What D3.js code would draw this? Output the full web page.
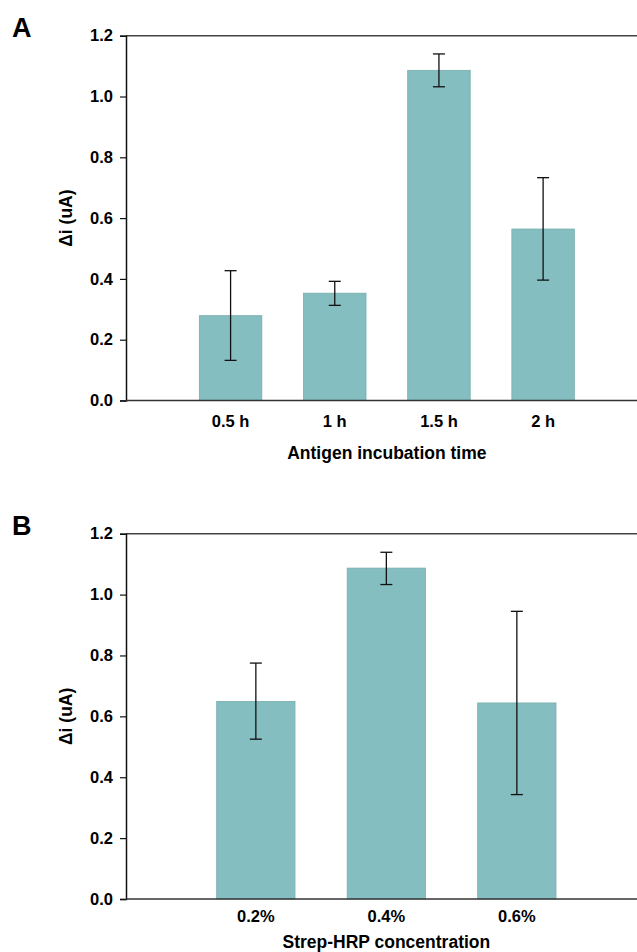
<!DOCTYPE html>
<html>
<head>
<meta charset="utf-8">
<script src="https://cdn.jsdelivr.net/npm/d3@7"></script>
<style>
  html, body { margin: 0; padding: 0; background: #fff; }
  svg { display: block; }
  text { font-family: "Liberation Sans", Arial, sans-serif; font-weight: bold; fill: #000; }
</style>
</head>
<body>
<svg id="chart" width="637" height="952"></svg>
<script>
// Panel A data
const catsA = ["0.5 h", "1 h", "1.5 h", "2 h"];
const valuesA = [0.279, 0.353, 1.086, 0.564];
const errUpA = [0.427, 0.392, 1.140, 0.733];
const errLoA = [0.132, 0.313, 1.032, 0.396];

// Panel B data
const catsB = ["0.2%", "0.4%", "0.6%"];
const valuesB = [0.649, 1.087, 0.644];
const errUpB = [0.775, 1.139, 0.945];
const errLoB = [0.525, 1.033, 0.343];

const yTicks = [0, 0.2, 0.4, 0.6, 0.8, 1.0, 1.2];
const yLabel = "Δi (uA)";

const svg = d3.select("#chart");
const FS = 16.5;
const FT = 17.5;

function panel(opts) {
  const g = svg.append("g");
  const y = d3.scaleLinear().domain([0, 1.2]).range([opts.y0, opts.y1]);
  const x = d3.scaleBand().domain(opts.cats).range(opts.xr).paddingInner(0.4).paddingOuter(0.2);
  const axisX = 126, rightX = 637;

  // panel letter
  g.append("text").attr("x", 12).attr("y", opts.letterY).attr("font-size", 27).text(opts.letter);

  // bars
  g.selectAll("rect.bar").data(opts.cats).enter().append("rect")
    .attr("x", d => x(d))
    .attr("width", x.bandwidth())
    .attr("y", (d, i) => y(opts.vals[i]))
    .attr("height", (d, i) => y(0) - y(opts.vals[i]))
    .attr("fill", "#85bec0")
    .attr("stroke", "#78acad")
    .attr("stroke-width", 0.8);

  // error bars
  const eg = g.selectAll("g.err").data(opts.cats).enter().append("g");
  eg.append("line")
    .attr("x1", d => x(d) + x.bandwidth() / 2).attr("x2", d => x(d) + x.bandwidth() / 2)
    .attr("y1", (d, i) => y(opts.up[i])).attr("y2", (d, i) => y(opts.lo[i]))
    .attr("stroke", "#111").attr("stroke-width", 1.3);
  [opts.up, opts.lo].forEach(arr => {
    eg.append("line")
      .attr("x1", d => x(d) + x.bandwidth() / 2 - 6).attr("x2", d => x(d) + x.bandwidth() / 2 + 6)
      .attr("y1", (d, i) => y(arr[i])).attr("y2", (d, i) => y(arr[i]))
      .attr("stroke", "#111").attr("stroke-width", 1.3);
  });

  // top frame line
  g.append("line").attr("x1", axisX).attr("x2", rightX)
    .attr("y1", y(1.2)).attr("y2", y(1.2)).attr("stroke", "#444").attr("stroke-width", 1.5);

  // y axis
  const ya = g.append("g").attr("transform", `translate(${axisX},0)`)
    .call(d3.axisLeft(y).tickValues(yTicks).tickFormat(d3.format(".1f")).tickSize(6).tickPadding(7));
  ya.select(".domain").attr("stroke", "#111").attr("stroke-width", 1.5);
  ya.selectAll(".tick line").attr("stroke", "#111").attr("stroke-width", 1.2);
  ya.selectAll(".tick text").attr("font-size", FS).attr("font-family", "Liberation Sans, Arial, sans-serif").attr("font-weight", "bold").attr("fill", "#000");

  // x axis line
  g.append("line").attr("x1", axisX).attr("x2", rightX)
    .attr("y1", y(0)).attr("y2", y(0)).attr("stroke", "#333").attr("stroke-width", 1.5);

  // x tick labels
  g.selectAll("text.xl").data(opts.cats).enter().append("text")
    .attr("x", d => x(d) + x.bandwidth() / 2)
    .attr("y", opts.xLabY)
    .attr("text-anchor", "middle").attr("font-size", FS)
    .text(d => d);

  // x title
  g.append("text").attr("x", (opts.xr[0] + opts.xr[1]) / 2).attr("y", opts.xTitleY)
    .attr("text-anchor", "middle").attr("font-size", FT).text(opts.xTitle);

  // y title
  g.append("text")
    .attr("transform", `translate(72,${(opts.y0 + opts.y1) / 2}) rotate(-90)`)
    .attr("text-anchor", "middle").attr("font-size", FT).text(yLabel);
}

panel({
  letter: "A", letterY: 37,
  cats: catsA, vals: valuesA, up: errUpA, lo: errLoA,
  y0: 400.5, y1: 35.7, xr: [178.5, 595.2],
  xLabY: 427, xTitleY: 459, xTitle: "Antigen incubation time"
});

panel({
  letter: "B", letterY: 535,
  cats: catsB, vals: valuesB, up: errUpB, lo: errLoB,
  y0: 899, y1: 533.7, xr: [190.6, 582.1],
  xLabY: 922, xTitleY: 948, xTitle: "Strep-HRP concentration"
});
</script>
</body>
</html>
